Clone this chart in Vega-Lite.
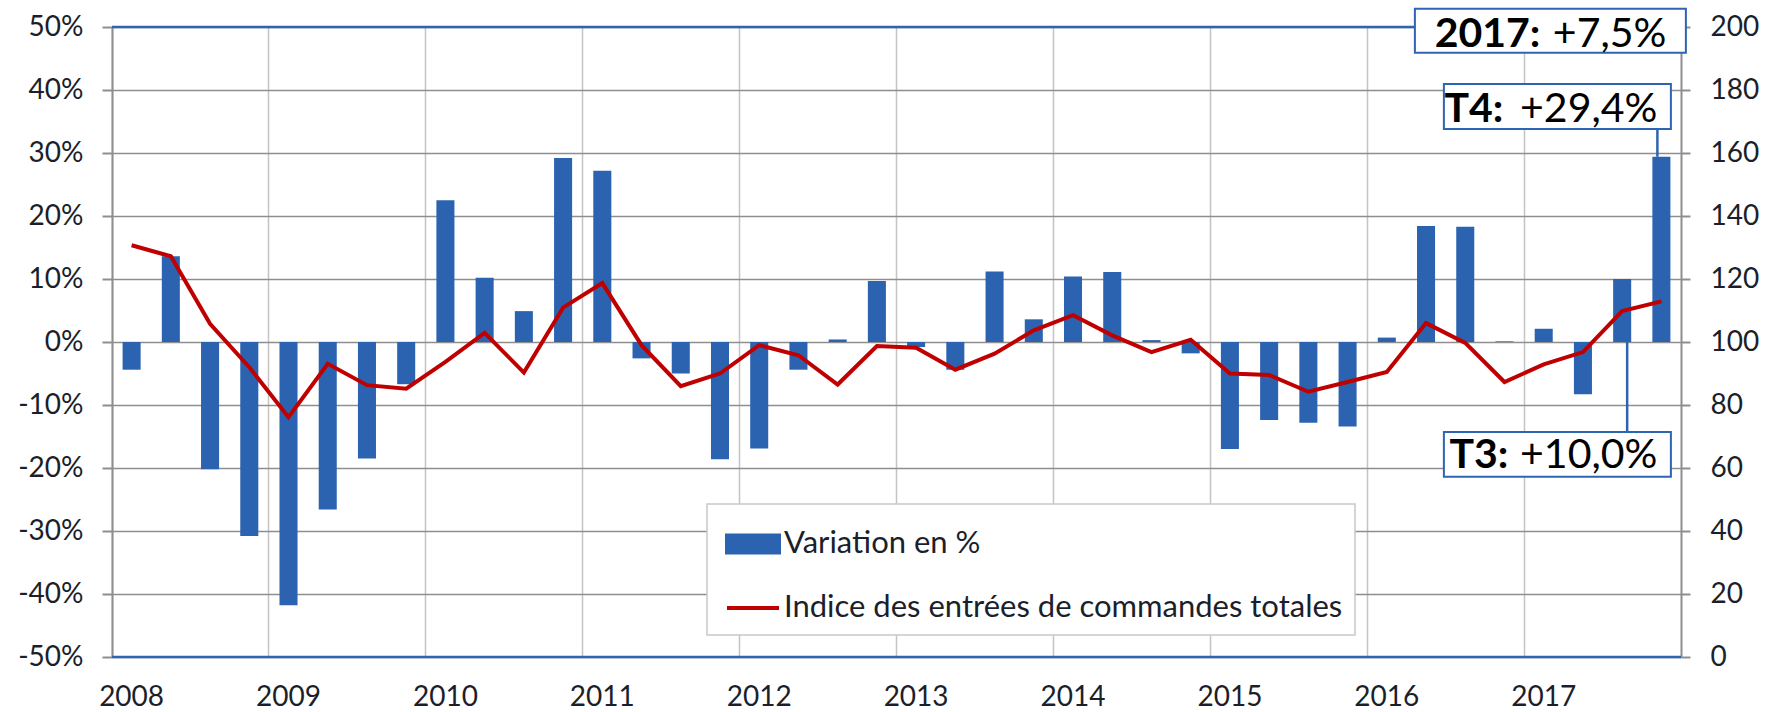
{
  "$schema": "https://vega.github.io/schema/vega-lite/v6.json",
  "width": 1569,
  "height": 630,
  "autosize": {"type": "none"},
  "padding": {"left": 112, "top": 27, "right": 88, "bottom": 55},
  "background": "white",
  "config": {
    "view": {"stroke": null},
    "font": "Lato",
    "axis": {"labelFont": "Lato", "labelFontSize": 28, "labelColor": "#1b1f2b", "title": null}
  },
  "datasets": {
    "main": [
      {"q": "2008T1", "pct": -4.4, "idx": 130.7},
      {"q": "2008T2", "pct": 13.6, "idx": 127.2},
      {"q": "2008T3", "pct": -20.2, "idx": 105.8},
      {"q": "2008T4", "pct": -30.8, "idx": 92.0},
      {"q": "2009T1", "pct": -41.8, "idx": 76.1},
      {"q": "2009T2", "pct": -26.6, "idx": 93.1},
      {"q": "2009T3", "pct": -18.5, "idx": 86.3},
      {"q": "2009T4", "pct": -6.7, "idx": 85.2},
      {"q": "2010T1", "pct": 22.5, "idx": 93.7},
      {"q": "2010T2", "pct": 10.2, "idx": 102.9},
      {"q": "2010T3", "pct": 4.9, "idx": 90.3},
      {"q": "2010T4", "pct": 29.2, "idx": 110.9},
      {"q": "2011T1", "pct": 27.2, "idx": 118.7},
      {"q": "2011T2", "pct": -2.6, "idx": 99.0},
      {"q": "2011T3", "pct": -5.0, "idx": 86.0},
      {"q": "2011T4", "pct": -18.6, "idx": 90.0},
      {"q": "2012T1", "pct": -16.9, "idx": 99.0},
      {"q": "2012T2", "pct": -4.4, "idx": 95.8},
      {"q": "2012T3", "pct": 0.4, "idx": 86.5},
      {"q": "2012T4", "pct": 9.7, "idx": 98.7},
      {"q": "2013T1", "pct": -0.8, "idx": 98.2},
      {"q": "2013T2", "pct": -4.4, "idx": 91.2},
      {"q": "2013T3", "pct": 11.2, "idx": 96.3},
      {"q": "2013T4", "pct": 3.6, "idx": 103.7},
      {"q": "2014T1", "pct": 10.4, "idx": 108.5},
      {"q": "2014T2", "pct": 11.1, "idx": 102.1},
      {"q": "2014T3", "pct": 0.3, "idx": 96.8},
      {"q": "2014T4", "pct": -1.8, "idx": 100.7},
      {"q": "2015T1", "pct": -17.0, "idx": 90.0},
      {"q": "2015T2", "pct": -12.4, "idx": 89.5},
      {"q": "2015T3", "pct": -12.8, "idx": 84.2},
      {"q": "2015T4", "pct": -13.4, "idx": 87.3},
      {"q": "2016T1", "pct": 0.7, "idx": 90.5},
      {"q": "2016T2", "pct": 18.4, "idx": 106.0},
      {"q": "2016T3", "pct": 18.3, "idx": 99.7},
      {"q": "2016T4", "pct": 0.1, "idx": 87.3},
      {"q": "2017T1", "pct": 2.1, "idx": 92.9},
      {"q": "2017T2", "pct": -8.3, "idx": 96.8},
      {"q": "2017T3", "pct": 10.0, "idx": 109.8},
      {"q": "2017T4", "pct": 29.4, "idx": 112.9}
    ]
  },
  "layer": [
    {
      "layer": [
        {
          "data": {"name": "main"},
          "mark": {"type": "bar", "width": {"band": 0.46}, "color": "#2b63b1"},
          "encoding": {
            "x": {
              "field": "q", "type": "ordinal",
              "scale": {"paddingInner": 0, "paddingOuter": 0},
              "axis": {
                "values": ["2008T1","2009T1","2010T1","2011T1","2012T1","2013T1","2014T1","2015T1","2016T1","2017T1"],
                "labelExpr": "substring(datum.value, 0, 4)",
                "bandPosition": 0, "labelOffset": 0, "labelAngle": 0,
                "ticks": false, "labelPadding": 26, "domain": false,
                "grid": true, "gridColor": "#c4c4c4", "gridWidth": 1.5
              }
            },
            "y": {
              "field": "pct", "type": "quantitative",
              "scale": {"domain": [-50, 50], "nice": false},
              "axis": {
                "values": [-50,-40,-30,-20,-10,0,10,20,30,40,50],
                "labelExpr": "datum.value + '%'",
                "grid": true, "gridColor": "#8e8e8e", "gridWidth": 1.6,
                "domainColor": "#8e8e8e", "domainWidth": 2,
                "tickColor": "#8e8e8e", "tickWidth": 2, "tickSize": 10,
                "labelPadding": 19
              }
            },
            "color": {
              "datum": "Variation en %",
              "scale": {"domain": ["Variation en %", "Indice des entrées de commandes totales"], "range": ["#2b63b1", "#c00000"]},
              "legend": {
                "orient": "none", "legendX": 595, "legendY": 477, "title": null,
                "labelFont": "Lato", "labelFontSize": 31, "labelColor": "#1b1f2b", "labelLimit": 900,
                "symbolSize": 2704, "symbolStrokeWidth": 4, "symbolOffset": 6,
                "fillColor": "white", "strokeColor": "#c8c8c8",
                "padding": 12, "rowPadding": 19, "labelOffset": 3,
                "encode": {
                  "legend": {"update": {"strokeWidth": {"value": 1.5}}},
                  "symbols": {
                    "update": {
                      "shape": {"signal": "datum.value == 'Variation en %' ? 'M-1,-0.33H1V0.33H-1Z' : 'M-1,0H1'"},
                      "fill": {"signal": "datum.value == 'Variation en %' ? '#2b63b1' : 'transparent'"},
                      "stroke": {"signal": "datum.value == 'Variation en %' ? 'transparent' : '#c00000'"},
                      "strokeWidth": {"value": 4},
                      "opacity": {"value": 1}
                    }
                  }
                }
              }
            }
          }
        },
        {
          "data": {"values": [{"v": 50}, {"v": -50}]},
          "mark": {"type": "rule", "color": "#2e65b3", "strokeWidth": 2.5},
          "encoding": {"y": {"field": "v", "type": "quantitative"}}
        },
        {
          "data": {"values": [{"q": "2017T4", "a": 33.8, "b": 29.4}]},
          "mark": {"type": "rule", "color": "#2e65b3", "strokeWidth": 2.5, "xOffset": -4},
          "encoding": {
            "x": {"field": "q", "type": "ordinal"},
            "y": {"field": "a", "type": "quantitative"},
            "y2": {"field": "b"}
          }
        },
        {
          "data": {"values": [{"q": "2017T3", "a": 0, "b": -14.3}]},
          "mark": {"type": "rule", "color": "#2e65b3", "strokeWidth": 2.5, "xOffset": 5},
          "encoding": {
            "x": {"field": "q", "type": "ordinal"},
            "y": {"field": "a", "type": "quantitative"},
            "y2": {"field": "b"}
          }
        },
        {
          "data": {"values": [{"q": "2017T4", "a": 52.9, "b": 45.9}]},
          "mark": {"type": "bar", "width": 271, "xOffset": -111, "fill": "white", "stroke": "#2e65b3", "strokeWidth": 2},
          "encoding": {
            "x": {"field": "q", "type": "ordinal"},
            "y": {"field": "a", "type": "quantitative"},
            "y2": {"field": "b"}
          }
        },
        {
          "data": {"values": [{"q": "2017T4", "a": 40.95, "b": 33.8}, {"q": "2017T4", "a": -14.3, "b": -21.4}]},
          "mark": {"type": "bar", "width": 227, "xOffset": -104, "fill": "white", "stroke": "#2e65b3", "strokeWidth": 2},
          "encoding": {
            "x": {"field": "q", "type": "ordinal"},
            "y": {"field": "a", "type": "quantitative"},
            "y2": {"field": "b"}
          }
        },
        {
          "data": {"values": [{"q": "2017T4", "yt": 46.8, "t": "2017:"}]},
          "mark": {"type": "text", "font": "Lato", "fontWeight": "bold", "fontSize": 41, "color": "black", "align": "right", "baseline": "alphabetic", "dx": -121},
          "encoding": {"x": {"field": "q", "type": "ordinal"}, "y": {"field": "yt", "type": "quantitative"}, "text": {"field": "t"}}
        },
        {
          "data": {"values": [{"q": "2017T4", "yt": 46.8, "t": "+7,5%"}]},
          "mark": {"type": "text", "font": "Lato", "fontSize": 41, "color": "black", "align": "right", "baseline": "alphabetic", "dx": 5},
          "encoding": {"x": {"field": "q", "type": "ordinal"}, "y": {"field": "yt", "type": "quantitative"}, "text": {"field": "t"}}
        },
        {
          "data": {"values": [{"q": "2017T4", "yt": 34.9, "t": "T4:"}]},
          "mark": {"type": "text", "font": "Lato", "fontWeight": "bold", "fontSize": 41, "color": "black", "align": "right", "baseline": "alphabetic", "dx": -158},
          "encoding": {"x": {"field": "q", "type": "ordinal"}, "y": {"field": "yt", "type": "quantitative"}, "text": {"field": "t"}}
        },
        {
          "data": {"values": [{"q": "2017T4", "yt": 34.9, "t": "+29,4%"}]},
          "mark": {"type": "text", "font": "Lato", "fontSize": 41, "color": "black", "align": "right", "baseline": "alphabetic", "dx": -4},
          "encoding": {"x": {"field": "q", "type": "ordinal"}, "y": {"field": "yt", "type": "quantitative"}, "text": {"field": "t"}}
        },
        {
          "data": {"values": [{"q": "2017T4", "yt": -20.0, "t": "T3:"}]},
          "mark": {"type": "text", "font": "Lato", "fontWeight": "bold", "fontSize": 41, "color": "black", "align": "right", "baseline": "alphabetic", "dx": -153},
          "encoding": {"x": {"field": "q", "type": "ordinal"}, "y": {"field": "yt", "type": "quantitative"}, "text": {"field": "t"}}
        },
        {
          "data": {"values": [{"q": "2017T4", "yt": -20.0, "t": "+10,0%"}]},
          "mark": {"type": "text", "font": "Lato", "fontSize": 41, "color": "black", "align": "right", "baseline": "alphabetic", "dx": -4},
          "encoding": {"x": {"field": "q", "type": "ordinal"}, "y": {"field": "yt", "type": "quantitative"}, "text": {"field": "t"}}
        }
      ]
    },
    {
      "data": {"name": "main"},
      "mark": {"type": "line", "strokeWidth": 4, "color": "#c00000"},
      "encoding": {
        "x": {"field": "q", "type": "ordinal"},
        "y": {
          "field": "idx", "type": "quantitative",
          "scale": {"domain": [0, 200], "nice": false},
          "axis": {
            "orient": "right",
            "values": [0,20,40,60,80,100,120,140,160,180,200],
            "grid": false,
            "domainColor": "#8e8e8e", "domainWidth": 2,
            "tickColor": "#8e8e8e", "tickWidth": 2, "tickSize": 9,
            "labelPadding": 20
          }
        },
        "color": {"datum": "Indice des entrées de commandes totales"}
      }
    }
  ],
  "resolve": {"scale": {"y": "independent"}}
}
